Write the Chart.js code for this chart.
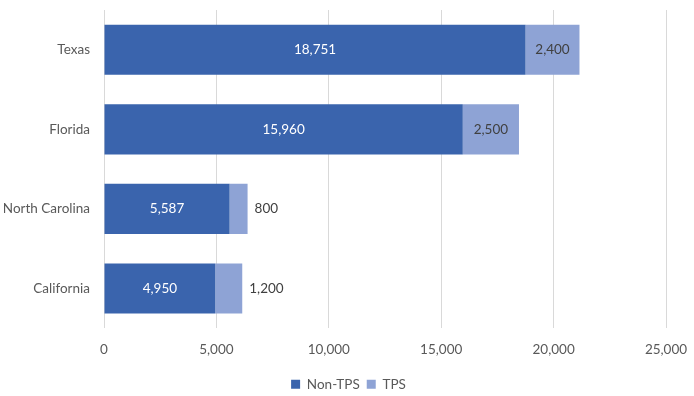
<!DOCTYPE html>
<html>
<head>
<meta charset="utf-8">
<script src="https://cdn.jsdelivr.net/npm/chart.js@4/dist/chart.umd.min.js"></script>
<style>
  html, body { margin: 0; padding: 0; background: #fff; }
  #wrap { width: 694px; height: 396px; }
</style>
</head>
<body>
<div id="wrap"><canvas id="chart"></canvas></div>
<script>
const states = ["Texas", "Florida", "North Carolina", "California"];
const nonTps = [18751, 15960, 5587, 4950];
const tps = [2400, 2500, 800, 1200];
const xTicks = [0, 5000, 10000, 15000, 20000, 25000];

const FONT = "Lato, 'Open Sans', sans-serif";
const SIZE = 13.5;
const fmt = v => v.toLocaleString("en-US");

// labels drawn on the bars, pushed outside when they don't fit
const barLabels = {
  id: "barLabels",
  afterDatasetsDraw(chart) {
    const ctx = chart.ctx;
    ctx.save();
    ctx.font = SIZE + "px " + FONT;
    ctx.textBaseline = "middle";
    chart.data.datasets.forEach((ds, i) => {
      const meta = chart.getDatasetMeta(i);
      meta.data.forEach((bar, j) => {
        const txt = fmt(ds.data[j]);
        const w = Math.abs(bar.x - bar.base);
        const tw = ctx.measureText(txt).width;
        if (tw + 8 < w) {
          ctx.textAlign = "center";
          ctx.fillStyle = i === 0 ? "#ffffff" : "#404040";
          ctx.fillText(txt, (bar.x + bar.base) / 2, bar.y);
        } else {
          ctx.textAlign = "left";
          ctx.fillStyle = "#404040";
          ctx.fillText(txt, bar.x + 7, bar.y);
        }
      });
    });
    ctx.restore();
  }
};

new Chart(document.getElementById("chart"), {
  type: "bar",
  data: {
    labels: states,
    datasets: [
      { label: "Non-TPS", data: nonTps, backgroundColor: "#3a64ad", barPercentage: 0.63, categoryPercentage: 1 },
      { label: "TPS", data: tps, backgroundColor: "#8ea3d5", barPercentage: 0.63, categoryPercentage: 1 }
    ]
  },
  options: {
    indexAxis: "y",
    responsive: true,
    maintainAspectRatio: false,
    animation: false,
    layout: { padding: { top: 10, right: 1, left: 4, bottom: -5 } },
    scales: {
      x: {
        stacked: true,
        min: 0,
        max: 25000,
        afterBuildTicks: axis => { axis.ticks = xTicks.map(v => ({ value: v })); },
        afterFit: axis => { axis.paddingRight = 28; },
        grid: { color: "#d9d9d9", drawTicks: false },
        border: { display: false },
        ticks: { color: "#595959", font: { family: FONT, size: SIZE }, padding: 13, callback: v => fmt(v) }
      },
      y: {
        stacked: true,
        afterFit: axis => {
          axis.width = 100;
          axis.paddingTop = 0;
          axis.paddingBottom = 0;
        },
        grid: { display: false, drawTicks: false },
        border: { display: false },
        ticks: { color: "#595959", font: { family: FONT, size: SIZE }, padding: 14 }
      }
    },
    plugins: {
      legend: {
        position: "bottom",
        labels: { boxWidth: 9, boxHeight: 9, color: "#595959", font: { family: FONT, size: SIZE }, padding: 7 }
      },
      tooltip: { enabled: false }
    }
  },
  plugins: [barLabels]
});
</script>
</body>
</html>
